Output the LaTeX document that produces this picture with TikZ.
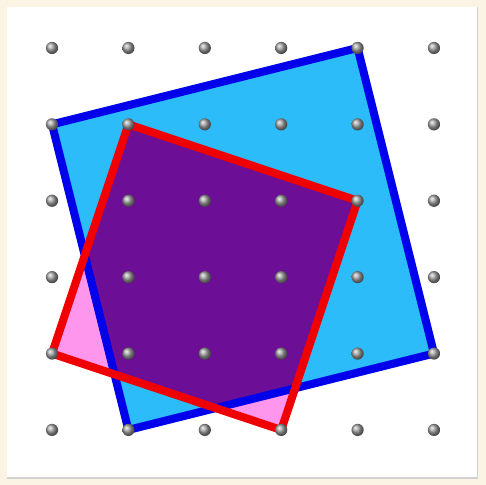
\documentclass[tikz,border=0pt]{standalone}
\usepackage{xcolor}
\usepackage{tikz}
\usetikzlibrary{shadings}
\definecolor{boardcream}{RGB}{251,243,228}
\definecolor{bigblue}{RGB}{0,0,235}
\definecolor{bigfill}{RGB}{45,188,250}
\definecolor{tiltred}{RGB}{240,0,0}
\definecolor{tiltpink}{RGB}{255,150,238}
\definecolor{overlap}{RGB}{108,14,150}

\begin{document}
\begin{tikzpicture}[x=1cm, y=1cm,
  peg/.style={circle, inner sep=0pt, minimum size=0.16cm, shading=ball, ball color=gray!75},
  edge/.style={line width=3pt, line join=miter}]
  % frame
  \fill[boardcream] (-0.681,-0.72) rectangle (5.681,5.628);
  \fill[gray!35] (-0.59,-0.64) rectangle (5.58,5.537);
  \fill[white] (-0.59,-0.615) rectangle (5.56,5.537);
  \useasboundingbox (-0.681,-0.72) rectangle (5.681,5.628);
  % grid of pegs, 6 x 6
  \foreach \i in {0,...,5}
    \foreach \j in {0,...,5}
      \coordinate (g-\i-\j) at (\i,\j);
  % blue square
  \fill[bigfill] (g-0-4) -- (g-4-5) -- (g-5-1) -- (g-1-0) -- cycle;
  % red square
  \fill[tiltpink] (g-1-4) -- (g-4-3) -- (g-3-0) -- (g-0-1) -- cycle;
  \begin{scope}
    \clip (g-0-4) -- (g-4-5) -- (g-5-1) -- (g-1-0) -- cycle;
    \fill[overlap] (g-1-4) -- (g-4-3) -- (g-3-0) -- (g-0-1) -- cycle;
  \end{scope}
  \draw[edge, bigblue] (g-0-4) -- (g-4-5) -- (g-5-1) -- (g-1-0) -- cycle;
  \draw[edge, tiltred] (g-1-4) -- (g-4-3) -- (g-3-0) -- (g-0-1) -- cycle;
  % pegs on top
  \foreach \i in {0,...,5}
    \foreach \j in {0,...,5}
      \node[peg] (peg-\i-\j) at (g-\i-\j) {};
\end{tikzpicture}
\end{document}
